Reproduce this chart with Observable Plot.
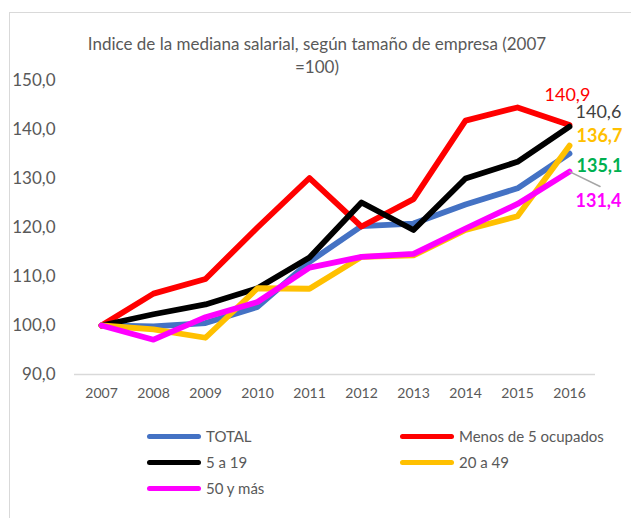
<!DOCTYPE html>
<html>
<head>
<meta charset="utf-8">
<script src="https://cdn.jsdelivr.net/npm/d3@7"></script>
<script src="https://cdn.jsdelivr.net/npm/@observablehq/plot@0.6"></script>
<style>
  html, body { margin: 0; padding: 0; background: #fff; }
  #wrap { position: relative; width: 631px; height: 518px; overflow: hidden; font-family: Lato, "Open Sans", sans-serif; }
  #frame { position: absolute; left: 9px; top: 12px; width: 700px; height: 600px; border-left: 1.5px solid #d9d9d9; border-top: 1.5px solid #d9d9d9; }
  #title { position: absolute; left: 0; width: 634px; top: 32px; text-align: center; color: #595959; font-size: 17px; line-height: 23px; }
  #chart { position: absolute; left: 0; top: 0; }
  .leg { position: absolute; display: flex; align-items: center; color: #595959; font-size: 15px; }
  .leg .sw { width: 54px; height: 5px; border-radius: 3px; margin-right: 5px; }
</style>
</head>
<body>
<div id="wrap">
  <div id="frame"></div>
  <div id="chart"></div>
  <div id="title">Indice de la mediana salarial, según tamaño de empresa (2007<br>=100)</div>
  <div id="legend"></div>
</div>
<script>
const years = ["2007","2008","2009","2010","2011","2012","2013","2014","2015","2016"];
const seriesNames = ["TOTAL", "Menos de 5 ocupados", "5 a 19", "20 a 49", "50 y más"];
const total   = [100, 99.8, 100.5, 103.8, 113.0, 120.3, 120.8, 124.7, 128.0, 135.1];
const menos5  = [100, 106.5, 109.5, 120.0, 130.1, 120.2, 125.8, 141.8, 144.5, 140.9];
const de5a19  = [100, 102.3, 104.3, 107.6, 113.9, 125.1, 119.5, 130.0, 133.4, 140.6];
const de20a49 = [100, 99.2, 97.5, 107.6, 107.5, 114.0, 114.3, 119.5, 122.3, 136.7];
const mas50   = [100, 97.1, 101.7, 104.8, 111.8, 114.0, 114.6, 119.8, 124.8, 131.4];
const yTicks  = [90, 100, 110, 120, 130, 140, 150];

const seriesValues = [total, menos5, de5a19, de20a49, mas50];
const lineColors = ["#4472C4", "#FF0000", "#000000", "#FFC000", "#FF00FF"];
const labelColors = ["#00B050", "#FF0000", "#404040", "#FFC000", "#FF00FF"];
const labelWeights = ["bold", "normal", "normal", "bold", "bold"];
const labelOffsets = [[7, 13], [-25, -30], [6, -14.5], [7, -9], [6, 29.5]];

const fmt = v => v.toFixed(1).replace(".", ",");

const rows = seriesNames.flatMap((s, i) => years.map((yr, j) => ({series: s, year: yr, value: seriesValues[i][j]})));
const lastRows = seriesNames.map((s, i) => ({series: s, year: years[years.length - 1], value: seriesValues[i][years.length - 1]}));

const lineMarks = seriesNames.map((s, i) =>
  Plot.line(rows.filter(d => d.series === s), {
    x: "year", y: "value", stroke: lineColors[i], strokeWidth: 5.8,
    strokeLinecap: "round", strokeLinejoin: "round"
  })
);

const labelMarks = seriesNames.map((s, i) =>
  Plot.text([lastRows[i]], {
    x: "year", y: "value", text: d => fmt(d.value),
    dx: labelOffsets[i][0], dy: labelOffsets[i][1],
    textAnchor: "start", fill: labelColors[i], fontSize: 18, fontWeight: labelWeights[i]
  })
);

const leader = Plot.vector([lastRows[4]], {
  x: "year", y: "value", length: 34, rotate: 116, anchor: "start",
  stroke: "#a6a6a6", strokeWidth: 1.5,
  shape: { draw(context, l) { context.moveTo(0, 0); context.lineTo(0, -l); } }
});

const chart = Plot.plot({
  width: 631, height: 518,
  marginLeft: 74, marginRight: 36, marginTop: 80, marginBottom: 144,
  style: { fontFamily: "Lato, 'Open Sans', sans-serif", background: "transparent", overflow: "visible" },
  x: { type: "point", domain: years, padding: 0.5, label: null },
  y: { domain: [90, 150], label: null },
  marks: [
    Plot.ruleY([90], { stroke: "#d9d9d9", strokeWidth: 1.5 }),
    Plot.axisX({ tickSize: 0, tickPadding: 14, fontSize: 14, color: "#595959", label: null }),
    Plot.axisY({ ticks: yTicks, tickSize: 0, tickPadding: 19, tickFormat: fmt, fontSize: 17, color: "#595959", label: null }),
    ...lineMarks,
    leader,
    ...labelMarks
  ]
});
document.getElementById("chart").appendChild(chart);

// Legend
const legendPos = [[147, 436], [400, 436], [147, 462], [400, 462], [147, 488]];
const legend = document.getElementById("legend");
seriesNames.forEach((s, i) => {
  const el = document.createElement("div");
  el.className = "leg";
  el.style.left = legendPos[i][0] + "px";
  el.style.top = (legendPos[i][1] - 10) + "px";
  el.style.height = "20px";
  el.innerHTML = `<div class="sw" style="background:${lineColors[i]}"></div><span>${s}</span>`;
  legend.appendChild(el);
});
</script>
</body>
</html>
